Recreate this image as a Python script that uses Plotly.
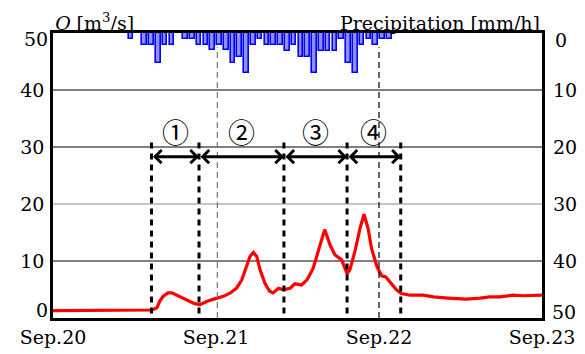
import plotly.graph_objects as go

# Time is measured in hours from Sep.20 00:00
day_ticks = [0, 24, 48, 72]
day_labels = ["Sep.20", "Sep.21", "Sep.22", "Sep.23"]

# Hourly precipitation [mm/h], one value per hour starting at hour 11
rain_start_hour = 11
rain_mmh = [1.0, 0, 2.1, 2.1, 5.2, 2.1, 2.1, 0, 1.0, 1.0,
            2.1, 2.1, 3.0, 2.1, 3.0, 5.2, 4.2, 7.0, 2.1, 1.0,
            2.1, 2.1, 2.1, 3.1, 2.1, 4.2, 4.2, 7.0, 3.1, 3.1,
            3.1, 1.0, 5.2, 7.0, 2.1, 1.0, 2.1, 1.0, 1.0]

# River discharge Q [m3/s]
q_hours = [0, 14.3, 14.6, 15.3, 15.75, 16.2, 16.9, 17.5, 18.2, 19.4,
           20.7, 21.6, 22.6, 23.9, 25.1, 26.1, 27.0, 27.8, 28.5, 29.0,
           29.5, 30.0, 30.5, 31.2, 31.9, 32.4, 33.2, 33.9, 34.9, 35.6,
           36.6, 37.4, 38.3, 39.1, 40.0, 40.8, 41.5, 42.5, 43.3, 43.7,
           44.5, 45.2, 45.8, 46.4, 46.9, 47.7, 48.4, 49.0, 49.9, 50.6,
           51.3, 52.6, 54.5, 56.0, 58.2, 60.9, 62.9, 64.3, 65.8, 67.8,
           69.2, 71.2, 72]
q_vals = [1.3, 1.3, 1.4, 1.8, 3.0, 3.8, 4.4, 4.4, 4.0, 3.3,
          2.6, 2.3, 2.9, 3.4, 3.8, 4.4, 5.2, 6.7, 9.0, 10.8,
          11.5, 10.8, 8.4, 6.1, 4.7, 4.4, 5.2, 5.0, 5.2, 6.0,
          5.8, 6.7, 8.7, 11.9, 15.5, 12.8, 11.1, 10.2, 7.8, 8.4,
          11.9, 15.7, 18.2, 15.7, 12.2, 9.0, 7.4, 7.2, 6.0, 4.9,
          4.3, 4.0, 4.0, 3.7, 3.5, 3.3, 3.5, 3.7, 3.7, 4.0,
          3.9, 4.0, 4.0]

# Flood-event periods: boundaries (hours) and their labels
period_bounds = [14.5, 21.5, 34.0, 43.3, 51.2]
period_labels = ["①", "②", "③", "④"]

q_ticks = [0, 10, 20, 30, 40, 50]
rain_ticks = [0, 10, 20, 30, 40, 50]
grid_vals = [10, 20, 30, 40]
grid_colors = ["#000000", "#8a8a8a", "#000000", "#000000"]

SERIF = "DejaVu Serif"
FONT = dict(family=SERIF, size=19, color="#000000")

fig = go.Figure()

bar_x = [rain_start_hour + i + 0.5 for i, v in enumerate(rain_mmh) if v > 0]
bar_y = [v for v in rain_mmh if v > 0]
fig.add_trace(go.Bar(
    x=bar_x, y=bar_y, width=0.68, yaxis="y2",
    marker=dict(color="#8f8fff", line=dict(color="#0000ff", width=1.6)),
))

fig.add_trace(go.Scatter(
    x=q_hours, y=q_vals, mode="lines",
    line=dict(color="#ff0000", width=3.2),
))

shapes = []
for v, c in zip(grid_vals, grid_colors):
    shapes.append(dict(type="line", xref="paper", x0=0, x1=1, yref="y", y0=v, y1=v,
                       line=dict(color=c, width=1), layer="below"))

# Day separators
shapes.append(dict(type="line", xref="x", x0=24.2, x1=24.2, yref="y", y0=0, y1=47.5,
                   line=dict(color="#777777", width=1.2, dash="6px,4px")))
shapes.append(dict(type="line", xref="x", x0=48.0, x1=48.0, yref="y", y0=0, y1=47.5,
                   line=dict(color="#000000", width=1.2, dash="6px,4px")))

# Period boundaries
for b in period_bounds:
    shapes.append(dict(type="line", xref="x", x0=b, x1=b, yref="y", y0=0.8, y1=31.3,
                       line=dict(color="#000000", width=3, dash="6px,5px")))

annotations = []
arrow_y = 28.3
for i, lab in enumerate(period_labels):
    a, b = period_bounds[i], period_bounds[i + 1]
    annotations.append(dict(
        x=b, y=arrow_y, ax=a, ay=arrow_y, xref="x", yref="y", axref="x", ayref="y",
        text="", showarrow=True, arrowhead=4, startarrowhead=4, arrowside="end+start",
        arrowwidth=3, arrowsize=0.85, startarrowsize=0.85, arrowcolor="#000000",
        standoff=0, startstandoff=0,
    ))
    annotations.append(dict(
        x=(a + b) / 2, y=32.7, xref="x", yref="y", text=lab, showarrow=False,
        font=dict(family="Noto Sans CJK JP", size=27, color="#000000"),
        xanchor="center", yanchor="middle",
    ))

# End labels of both vertical scales sit slightly inside the frame
annotations.append(dict(x=0, y=q_ticks[0], xref="paper", yref="y", text=str(q_ticks[0]),
                        showarrow=False, xanchor="right", yanchor="middle",
                        xshift=-3, yshift=8, font=FONT))
annotations.append(dict(x=0, y=q_ticks[-1], xref="paper", yref="y", text=str(q_ticks[-1]),
                        showarrow=False, xanchor="right", yanchor="middle",
                        xshift=-3, yshift=-6, font=FONT))
annotations.append(dict(x=1, y=rain_ticks[0], xref="paper", yref="y2", text=str(rain_ticks[0]),
                        showarrow=False, xanchor="left", yanchor="middle",
                        xshift=11, yshift=-7, font=FONT))
annotations.append(dict(x=1, y=rain_ticks[-1], xref="paper", yref="y2", text=str(rain_ticks[-1]),
                        showarrow=False, xanchor="left", yanchor="middle",
                        xshift=8, yshift=6, font=FONT))

annotations.append(dict(
    x=0, y=1, xref="paper", yref="paper", xanchor="left", yanchor="bottom",
    text="<i>Q</i> [m<sup>3</sup>/s]", showarrow=False, xshift=0, yshift=-3,
    font=FONT,
))
annotations.append(dict(
    x=1, y=1, xref="paper", yref="paper", xanchor="right", yanchor="bottom",
    text="Precipitation [mm/h]", showarrow=False, xshift=0, yshift=-3,
    font=FONT,
))

q_ticktext = [""] + [str(v) for v in q_ticks[1:-1]] + [""]
rain_ticktext = [""] + [str(v) for v in rain_ticks[1:-1]] + [""]

fig.update_layout(
    width=585, height=354,
    margin=dict(l=53, r=43, t=33, b=36),
    paper_bgcolor="white", plot_bgcolor="white",
    showlegend=False, bargap=0,
    font=FONT,
    shapes=shapes, annotations=annotations,
    xaxis=dict(range=[0, 72], tickvals=day_ticks, ticktext=day_labels,
               showgrid=False, zeroline=False, ticks="", automargin=False,
               showline=True, mirror=True, linecolor="#000000", linewidth=2.5,
               ticklabelstandoff=0, tickfont=FONT),
    yaxis=dict(range=[0, 50], tickvals=q_ticks, ticktext=q_ticktext,
               showgrid=False, zeroline=False,
               ticks="", showline=True, mirror=True, linecolor="#000000", linewidth=2.5,
               ticklabelstandoff=2, automargin=False, tickfont=FONT),
    yaxis2=dict(range=[50, 0], tickvals=rain_ticks, ticktext=rain_ticktext,
                overlaying="y", side="right",
                showgrid=False, zeroline=False, ticks="", showline=False,
                ticklabelstandoff=10, automargin=False, tickfont=FONT),
)

fig.write_html("out.html")
